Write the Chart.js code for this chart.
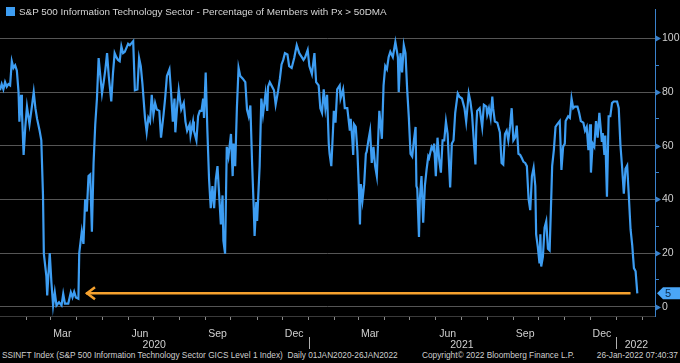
<!DOCTYPE html>
<html>
<head>
<meta charset="utf-8">
<script src="https://cdn.jsdelivr.net/npm/chart.js@4.4.1/dist/chart.umd.min.js"></script>
<style>
  html, body { margin: 0; padding: 0; background: #000; }
  #wrap { position: relative; width: 680px; height: 363px; background: #000; overflow: hidden;
          font-family: "Liberation Sans", Arial, sans-serif; }
  #chart { position: absolute; left: 0; top: 0; }
  #legend { position: absolute; left: 6px; top: 6px; color: #d6d6d6; font-size: 9.9px;
            display: flex; align-items: center; white-space: nowrap; }
  #legend i { display: inline-block; width: 9px; height: 9px; background: #3d9df2; margin-right: 4px; }
  #footer { position: absolute; left: 0; top: 350px; width: 680px; height: 12px; color: #cfcfcf; font-size: 8.3px; }
  #footer span { position: absolute; top: 0; white-space: nowrap; }
</style>
</head>
<body>
<div id="wrap">
  <canvas id="chart" width="680" height="349"></canvas>
  <div id="legend"><i></i>S&amp;P 500 Information Technology Sector - Percentage of Members with Px &gt; 50DMA</div>
  <div id="footer">
    <span style="left:2px">SSINFT Index (S&amp;P 500 Information Technology Sector GICS Level 1 Index)&nbsp; Daily 01JAN2020-26JAN2022</span>
    <span style="left:422px">Copyright© 2022 Bloomberg Finance L.P.</span>
    <span style="right:2px">26-Jan-2022 07:40:37</span>
  </div>
</div>
<script>
// days since 01-Jan-2020
const days = [0,2,4,6,8,10,12,14,16,18,20,22,23,25,26,28,30,32,35,38,40,42,44,45,47,49,51,52,55,56,
  58,59,61,63,65,67,70,73,75,77,81,84,86,88,90,93,94,97,99,101,103,105,107,109,111,113,115,117,
  121,123,125,127,129,132,134,136,138,140,142,144,146,148,152,154,158,160,163,165,167,169,172,174,
  176,178,180,182,184,186,189,191,194,196,198,201,203,205,207,208,210,212,215,218,220,222,225,226,
  229,230,233,235,237,
  239,241,242,244,246,248,250,252,254,256,258,260,262,264,265,267,269,271,274,276,277,279,281,283,
  285,288,291,293,295,297,299,301,302,304,305,308,310,312,315,317,318,320,322,325,327,330,332,334,
  336,338,341,343,346,349,352,355,
  358,360,362,365,367,370,373,375,378,380,382,384,386,388,390,391,393,395,396,398,400,403,404,407,
  409,412,415,416,418,419,420,422,424,426,427,428,430,432,434,435,437,439,441,443,445,447,449,450,
  453,455,457,459,461,463,466,469,472,473,475,
  477,479,481,483,485,487,489,491,493,494,495,497,498,500,502,504,506,508,509,512,514,515,517,519,
  521,523,525,527,529,531,533,534,536,538,540,543,545,548,551,553,556,558,560,562,564,565,566,569,
  570,572,574,577,578,580,582,584,585,587,590,593,
  595,597,599,601,603,605,607,609,611,613,615,617,619,621,623,625,627,629,631,633,635,636,638,640,
  641,642,644,646,648,650,652,654,655,657,659,661,664,666,668,670,671,674,676,678,680,682,685,687,
  689,692,694,696,698,700,701,703,705,707,709,711,
  714,715,717,718,720,722,724,726,728,732,734,736,738,740,742,744,746,748,750,752,754,756];

const pctAbove50dma = [80.7,83,81,83.7,82,83,82.5,91.5,89,90,88,80,69,79,73,56.6,67,74.6,68,75,
  80,74,70,70,65.6,62,41.5,19.8,11.4,4.2,15,20,9,0.5,5.4,0.5,1.7,0.5,4.8,1.2,1.2,5.4,3.5,5.6,3.5,3,
  20,28,23.4,40,35.5,48.7,49.3,28,53.6,68,77.6,92.7,
  79.5,83.7,88.5,94.5,86,76.5,87,94.5,93,92,91.5,97,94.5,95,98,97.5,99,80.7,81,92.7,89.7,83,70.4,65,
  70.4,69,79,71.6,75.9,73.5,73,63,71.6,78,86,88.5,79.5,69,77.6,65,74,80.7,73.5,76,69,65.6,68,63.8,
  69,65.6,62,71,73,
  73,77.6,70.4,87.3,65.6,47.5,36.7,45,36.7,47.5,52.4,41.5,30.7,41.5,24.6,19.8,59.6,56,64.4,48.7,
  60.8,52.4,74,89,86,85,83.7,73.5,71,75,54,36.7,26.4,39,32,52.4,77.6,71.6,79.5,73,82,83.7,82.5,80.7,
  75.3,80.7,85,90.3,92,94.5,94,89.7,89,92.7,97.5,94.5,
  93,92,93,95.7,89.7,86.7,94.5,83.7,82.5,74,72.3,81,74,79,60.8,57,52.4,65.6,73,68.6,81,82.5,77.6,81,
  74,74,65.6,70,62,56.6,68,67,57.8,41.5,30.7,45.7,39.7,45.7,57,57.8,62,65.6,53.6,59.6,52.4,48.7,65.6,
  73,62.6,82.5,89.7,88.5,93,95,93,98.7,93,80,94.5,
  87.3,97.5,94.5,81,70.4,57,56,62,67,45,44,26,40,48.7,31.3,45,51,56,55.4,59.6,58.4,60.8,48.7,63,54.8,
  50,62,62,69,64.4,51,44.5,60.8,62,72.3,79.5,78.3,77.6,74,69,79.5,76.5,71.6,62,53,67,73,74,71.6,67,
  75.3,74.6,71.6,74,70.4,78.3,74,69,68.6,65,
  53.6,53,64.4,65.6,62,67,74,62,63,67.5,57,56.6,55.4,54,53.6,52.4,40.3,36,48.7,51.8,45,27,22.2,16.2,
  27,15,18.6,29.5,31.9,21.6,21,41.5,52.4,58.4,67,68,69.2,51,59.6,60.8,69.2,71,70.4,77.6,74,74.6,74.6,
  72.3,69.2,68.6,65.6,67,58.4,68,50,60.8,59.6,69.2,63,72.3,
  61.4,64.7,56.6,63.8,41,71,71,75.9,76.5,76.5,74,60.2,51.9,42.1,51.4,52.6,41,28.9,22.9,14.4,13.2,5];

// orange arrow from the March 2020 low to the latest reading
const arrowDays = [102, 748];
const arrowLevel = [5, 5];

const monthLabels = ['Mar', 'Jun', 'Sep', 'Dec', 'Mar', 'Jun', 'Sep', 'Dec'];
const monthLabelDays = [74, 166, 258, 349, 439, 531, 623, 714];
const yearLabels = ['2020', '2021', '2022'];
const yearLabelDays = [183, 548, 755];
const yearBreakDays = [366, 731];
const yTicks = [0, 10, 20, 30, 40, 50, 60, 70, 80, 90, 100];

const DAY0 = Date.UTC(2020, 0, 1);
const monthStartDays = [];
for (let m = 1; m <= 25; m++) {
  monthStartDays.push(Math.round((Date.UTC(2020, m, 1) - DAY0) / 864e5));
}

const BLUE = '#3d9df2';
const AXIS_BLUE = '#3a82cc';
const ORANGE = '#f5a12e';
const FONT = '"Liberation Sans", Arial, sans-serif';

const overlay = {
  id: 'overlay',
  afterDatasetsDraw(chart) {
    const { ctx, scales: { x, y } } = chart;
    // arrow head
    const ax = x.getPixelForValue(arrowDays[0]);
    const ay = y.getPixelForValue(arrowLevel[0]);
    ctx.save();
    ctx.strokeStyle = ORANGE;
    ctx.lineWidth = 2.5;
    ctx.beginPath();
    ctx.moveTo(ax + 9, ay - 6);
    ctx.lineTo(ax + 1, ay);
    ctx.lineTo(ax + 9, ay + 6);
    ctx.stroke();
    ctx.restore();
  },
  afterDraw(chart) {
    const { ctx, scales: { x, y } } = chart;
    ctx.save();
    // arrow markers on labelled y ticks
    ctx.fillStyle = AXIS_BLUE;
    for (let v = 0; v <= 100; v += 20) {
      const py = Math.round(y.getPixelForValue(v)) + 0.5;
      ctx.beginPath();
      ctx.moveTo(y.left, py - 3.5);
      ctx.lineTo(y.left + 6, py);
      ctx.lineTo(y.left, py + 3.5);
      ctx.closePath();
      ctx.fill();
    }
    // last value tag
    const last = pctAbove50dma[pctAbove50dma.length - 1];
    const ty = y.getPixelForValue(last);
    ctx.fillStyle = '#4aa6f7';
    ctx.beginPath();
    ctx.moveTo(y.left + 2, ty);
    ctx.lineTo(y.left + 8, ty - 6);
    ctx.lineTo(680, ty - 6);
    ctx.lineTo(680, ty + 6);
    ctx.lineTo(y.left + 8, ty + 6);
    ctx.closePath();
    ctx.fill();
    ctx.fillStyle = '#0b2a4a';
    ctx.font = '11px ' + FONT;
    ctx.textBaseline = 'middle';
    ctx.textAlign = 'left';
    ctx.fillText(String(Math.round(last)), y.left + 10, ty + 0.5);

    // month and year labels under the time axis
    ctx.fillStyle = '#d0d0d0';
    ctx.font = '10.5px ' + FONT;
    ctx.textAlign = 'center';
    monthLabelDays.forEach((d, i) => {
      ctx.fillText(monthLabels[i], x.getPixelForValue(d), x.top + 18);
    });
    yearLabelDays.forEach((d, i) => {
      ctx.fillText(yearLabels[i], x.getPixelForValue(d), x.top + 29.5);
    });
    // year separators
    ctx.strokeStyle = '#b0b0b0';
    ctx.lineWidth = 1;
    yearBreakDays.forEach(d => {
      const px = Math.round(x.getPixelForValue(d)) + 0.5;
      ctx.beginPath();
      ctx.moveTo(px, x.top + 21);
      ctx.lineTo(px, x.top + 33);
      ctx.stroke();
    });
    ctx.restore();
  }
};

new Chart(document.getElementById('chart'), {
  type: 'line',
  data: {
    datasets: [{
      data: days.map((d, i) => ({ x: d, y: pctAbove50dma[i] })),
      borderColor: BLUE,
      borderWidth: 2.2,
      pointRadius: 0,
      tension: 0,
      xAxisID: 'x',
      yAxisID: 'y'
    }, {
      data: arrowDays.map((d, i) => ({ x: d, y: arrowLevel[i] })),
      borderColor: ORANGE,
      borderWidth: 2.5,
      pointRadius: 0,
      xAxisID: 'x',
      yAxisID: 'y'
    }]
  },
  options: {
    responsive: false,
    animation: false,
    layout: { padding: 0 },
    plugins: { legend: { display: false }, tooltip: { enabled: false } },
    scales: {
      x: {
        type: 'linear', position: 'bottom', min: 0, max: 777,
        afterBuildTicks: s => { s.ticks = monthStartDays.map(v => ({ value: v })); },
        afterFit: s => { s.height = 33; },
        ticks: { display: false },
        grid: { drawOnChartArea: false, drawTicks: true, tickLength: 4, tickColor: '#8c8c8c' },
        border: { display: true, color: '#3a3a3a' }
      },
      y: {
        position: 'right', min: -3.44, max: 110.85,
        afterBuildTicks: s => { s.ticks = yTicks.map(v => ({ value: v })); },
        afterFit: s => { s.width = 25; },
        grid: {
          color: c => (c.tick && c.tick.value % 20 === 0) ? '#555555' : 'rgba(0,0,0,0)',
          tickColor: AXIS_BLUE, tickLength: 4, drawTicks: true
        },
        border: { color: AXIS_BLUE },
        ticks: {
          padding: 3, color: '#d0d0d0', font: { family: FONT, size: 10.5 },
          callback: v => (v % 20 === 0 ? String(v) : '')
        }
      }
    }
  },
  plugins: [overlay]
});
</script>
</body>
</html>
